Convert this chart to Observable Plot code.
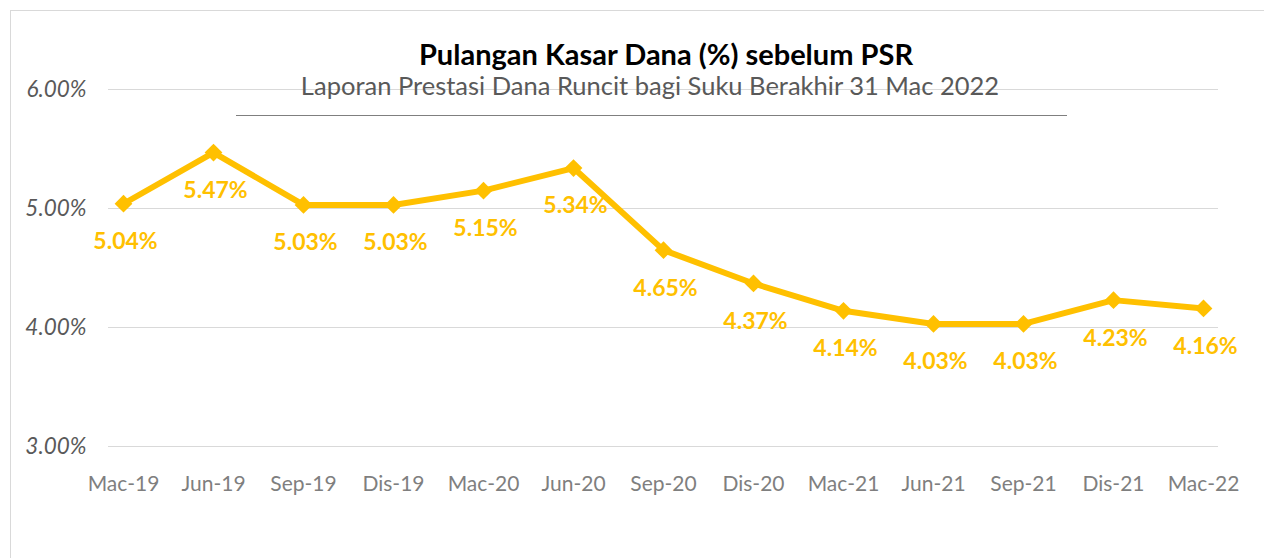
<!DOCTYPE html>
<html>
<head>
<meta charset="utf-8">
<script src="https://cdn.jsdelivr.net/npm/d3@7"></script>
<script src="https://cdn.jsdelivr.net/npm/@observablehq/plot@0.6"></script>
<style>
  html, body { margin: 0; padding: 0; background: #fff; overflow: hidden; width: 1264px; height: 558px; }
  #wrap { position: relative; width: 1264px; height: 558px; }
  #frame { position: absolute; left: 10px; top: 10px; width: 1270px; height: 560px; border: 1px solid #d9d9d9; box-sizing: border-box; }
  #chart { position: absolute; left: 0; top: 0; }
  #title { position: absolute; left: 0; width: 1332px; top: 36px; text-align: center; font-family: Lato, sans-serif; font-weight: bold; font-size: 29px; color: #000; white-space: nowrap; }
  #subtitle { position: absolute; left: 0; width: 1300px; top: 70px; text-align: center; font-family: Lato, sans-serif; font-size: 25.5px; color: #595959; white-space: nowrap; }
  #rule { position: absolute; left: 236px; width: 831px; top: 115px; height: 0; border-top: 1.5px solid #7f7f7f; }
</style>
</head>
<body>
<div id="wrap">
  <div id="frame"></div>
  <div id="chart"></div>
  <div id="title"></div>
  <div id="subtitle"></div>
  <div id="rule"></div>
</div>
<script>
const titleText = "Pulangan Kasar Dana (%) sebelum PSR";
const subtitleText = "Laporan Prestasi Dana Runcit bagi Suku Berakhir 31 Mac 2022";
const periods = ["Mac-19","Jun-19","Sep-19","Dis-19","Mac-20","Jun-20","Sep-20","Dis-20","Mac-21","Jun-21","Sep-21","Dis-21","Mac-22"];
const returns = [5.04, 5.47, 5.03, 5.03, 5.15, 5.34, 4.65, 4.37, 4.14, 4.03, 4.03, 4.23, 4.16];
const yTicks = [3, 4, 5, 6];

const data = periods.map((p, i) => ({period: p, value: returns[i]}));
const pct = d => d.toFixed(2) + "%";

document.getElementById("title").textContent = titleText;
document.getElementById("subtitle").textContent = subtitleText;

const chart = Plot.plot({
  width: 1264,
  height: 558,
  marginTop: 89,
  marginBottom: 112,
  marginLeft: 108,
  marginRight: 46,
  style: { fontFamily: "Lato, sans-serif", background: "transparent", overflow: "visible" },
  x: { type: "point", domain: periods, padding: 1/6, label: null },
  y: { domain: [3, 6], label: null },
  marks: [
    Plot.gridY(yTicks, { stroke: "#d9d9d9", strokeOpacity: 1, strokeWidth: 1.2 }),
    Plot.axisY(yTicks, { tickSize: 0, tickPadding: 22, tickFormat: pct, fontSize: 22.5, fontStyle: "italic", fill: "#595959", label: null }),
    Plot.axisX({ tickSize: 0, tickPadding: 30, fontSize: 21, fill: "#7f7f7f", label: null }),
    Plot.line(data, { x: "period", y: "value", stroke: "#FFC000", strokeWidth: 6, strokeLinejoin: "round" }),
    Plot.dot(data, { x: "period", y: "value", symbol: "diamond2", r: 8, fill: "#FFC000", stroke: "none" }),
    Plot.text(data, { x: "period", y: "value", text: d => pct(d.value), dy: 38, dx: 2, fontSize: 23, fontWeight: "bold", fill: "#FFC000" })
  ]
});
document.getElementById("chart").appendChild(chart);
</script>
</body>
</html>
